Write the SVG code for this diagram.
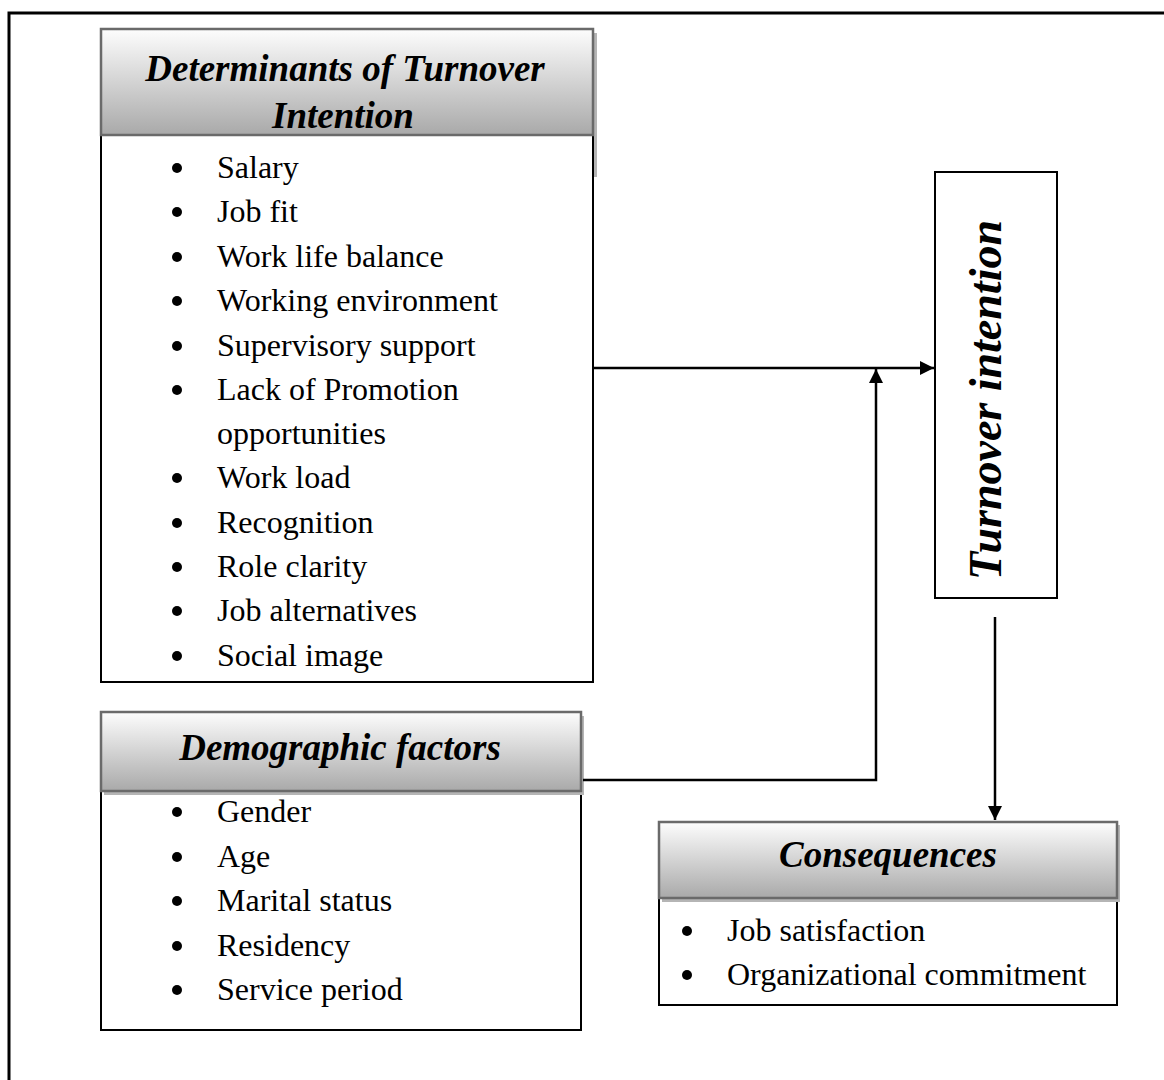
<svg xmlns="http://www.w3.org/2000/svg" width="1164" height="1080" viewBox="0 0 1164 1080">
<defs>
<linearGradient id="hg" x1="0" y1="0" x2="0" y2="1">
<stop offset="0" stop-color="#fdfdfd"/>
<stop offset="1" stop-color="#a9a9a9"/>
</linearGradient>
<marker id="ah" viewBox="0 0 14 14" refX="14" refY="7" markerWidth="14" markerHeight="14" markerUnits="userSpaceOnUse" orient="auto">
<path d="M0,0 L14,7 L0,14 Z" fill="#000"/>
</marker>
<style>
.hdr{fill:url(#hg);stroke:#6a6a6a;stroke-width:2.5}
.shd{fill:#b5b5b5}
.box{fill:#fff;stroke:#000;stroke-width:2}
.ht{font-family:"Liberation Serif","Times New Roman",serif;font-weight:bold;font-style:italic;font-size:37px;text-anchor:middle;fill:#000}
.it{font-family:"Liberation Serif","Times New Roman",serif;font-size:32px;fill:#000}
.con{fill:none;stroke:#000;stroke-width:2.5}
</style>
</defs>
<rect width="1164" height="1080" fill="#fff"/>
<rect x="9" y="13" width="1170" height="1090" fill="none" stroke="#000" stroke-width="3"/>

<g id="determinants">
<rect class="shd" x="593" y="33" width="4" height="144"/>
<rect class="box" x="101" y="135" width="492" height="547"/>
<rect class="hdr" x="101" y="29" width="492" height="106"/>
<text class="ht" x="345" y="81">Determinants of Turnover</text>
<text class="ht" x="343" y="128">Intention</text>
<g class="it">
<circle cx="177" cy="168" r="5"/><text x="217" y="178">Salary</text>
<circle cx="177" cy="212" r="5"/><text x="217" y="222">Job fit</text>
<circle cx="177" cy="257" r="5"/><text x="217" y="267">Work life balance</text>
<circle cx="177" cy="301" r="5"/><text x="217" y="311">Working environment</text>
<circle cx="177" cy="346" r="5"/><text x="217" y="356">Supervisory support</text>
<circle cx="177" cy="390" r="5"/><text x="217" y="400">Lack of Promotion</text>
<text x="217" y="444">opportunities</text>
<circle cx="177" cy="478" r="5"/><text x="217" y="488">Work load</text>
<circle cx="177" cy="523" r="5"/><text x="217" y="533">Recognition</text>
<circle cx="177" cy="567" r="5"/><text x="217" y="577">Role clarity</text>
<circle cx="177" cy="611" r="5"/><text x="217" y="621">Job alternatives</text>
<circle cx="177" cy="656" r="5"/><text x="217" y="666">Social image</text>
</g>
</g>

<g id="demographic">
<rect class="box" x="101" y="791" width="480" height="239"/>
<rect class="shd" x="104" y="791" width="480" height="4"/>
<rect class="shd" x="581" y="716" width="3" height="79"/>
<rect class="hdr" x="101" y="712" width="480" height="79"/>
<text class="ht" x="340" y="760">Demographic factors</text>
<g class="it">
<circle cx="177" cy="812" r="5"/><text x="217" y="822">Gender</text>
<circle cx="177" cy="857" r="5"/><text x="217" y="867">Age</text>
<circle cx="177" cy="901" r="5"/><text x="217" y="911">Marital status</text>
<circle cx="177" cy="946" r="5"/><text x="217" y="956">Residency</text>
<circle cx="177" cy="990" r="5"/><text x="217" y="1000">Service period</text>
</g>
</g>

<g id="turnover">
<rect class="box" x="935" y="172" width="122" height="426"/>
<text class="ht" style="font-size:46px" transform="translate(1001,400) rotate(-90)">Turnover intention</text>
</g>

<g id="consequences">
<rect class="box" x="659" y="898" width="458" height="107"/>
<rect class="shd" x="662" y="898" width="458" height="4"/>
<rect class="shd" x="1117" y="825" width="3" height="77"/>
<rect class="hdr" x="659" y="822" width="458" height="76"/>
<text class="ht" x="888" y="867">Consequences</text>
<g class="it">
<circle cx="687" cy="931" r="5"/><text x="727" y="941">Job satisfaction</text>
<circle cx="687" cy="975" r="5"/><text x="727" y="985">Organizational commitment</text>
</g>
</g>

<g id="connectors">
<line class="con" x1="594" y1="368" x2="934" y2="368" marker-end="url(#ah)"/>
<polyline class="con" points="583,780 876,780 876,369" marker-end="url(#ah)"/>
<line class="con" x1="995" y1="617" x2="995" y2="820" marker-end="url(#ah)"/>
</g>
</svg>
